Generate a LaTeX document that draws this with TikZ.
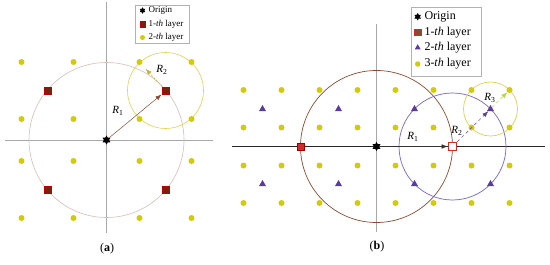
\documentclass[tikz,border=0pt]{standalone}
\usepackage{fontspec}
\setmainfont{Liberation Serif}
\usetikzlibrary{arrows.meta, positioning, shapes.geometric}
\definecolor{cdot}{HTML}{D4CC00}
\definecolor{csqa}{HTML}{7A2010}
\definecolor{csqb}{HTML}{D42A2A}
\definecolor{ctri}{HTML}{5A3C9C}
\definecolor{cringa}{HTML}{D8BCB4}
\definecolor{cbrown}{HTML}{8A4A30}
\definecolor{cviolet}{HTML}{7A62C4}
\definecolor{cgold}{HTML}{E2D04A}
\definecolor{caxis}{HTML}{A8A8A8}
\newcommand{\thlayer}[1]{#1-\textit{th} layer}
\newcommand{\rad}[1]{\textit{R}\textsubscript{#1}}

\begin{document}
\begin{tikzpicture}[x=1pt, y=-1pt,
    dot/.style={circle, fill=cdot, inner sep=0pt, minimum size=6pt},
    sqa/.style={rectangle, fill=csqa, draw=red!75!black, line width=0.5pt, inner sep=0pt, minimum size=7pt},
    sqb/.style={rectangle, fill=csqb, draw=red!60!black, line width=0.5pt, inner sep=0pt, minimum size=7.5pt},
    tri/.style={regular polygon, regular polygon sides=3, fill=ctri, inner sep=0pt, minimum size=8pt},
    org/.style={star, star points=6, star point ratio=1.7, fill=black, inner sep=0pt, minimum size=9pt},
    arr/.style={-{Latex[length=6pt, width=4.5pt]}, line width=0.5pt},
    lab/.style={font=\fontsize{11}{11}\selectfont},
    lg/.style={draw=gray!60, fill=white, inner sep=0pt},
    lgt/.style={anchor=west, inner sep=0pt}]
  \useasboundingbox (0,0) rectangle (550,265);

  % (a)
  \draw[caxis, line width=0.6pt] (106.5,2) -- (106.5,233);
  \draw[caxis, line width=0.6pt] (5,140) -- (213,140);
  \draw[cringa, line width=0.6pt] (106.5,140) circle[radius=77.5pt];
  \draw[cgold, line width=0.6pt] (165.5,90.5) circle[radius=38pt];
  \foreach \x [count=\i] in {21.5,73.5,139.5,191.5}
    \foreach \y [count=\j] in {62,119,161,218}
      \node[dot] (da\i\j) at (\x,\y) {};
  \foreach \x/\n in {47.5/l,165.5/r}
    \foreach \y/\m in {90.5/t,189.5/b}
      \node[sqa] (sa\n\m) at (\x,\y) {};
  \node[org] (Oa) at (106.5,140) {};
  \draw[arr, cbrown] (Oa) -- ([shift={(-4pt,-4pt)}]sart.center);
  \draw[arr, cgold!85!black, dash pattern=on 2pt off 1.5pt, shorten >=6pt] (sart) -- (da31);
  \node[lab] (r1a) at (118,111) {\rad{1}};
  \node[lab] (r2a) at (162,70) {\rad{2}};

  \node[lg, minimum width=54pt, minimum height=38pt] (lga) at (162,24) {};
  \node[org, minimum size=6.5pt] (lga1) at (142.5,10.5) {};
  \node[sqa, minimum size=5.5pt] (lga2) at (142.5,24) {};
  \node[dot, minimum size=5pt] (lga3) at (142.5,37.5) {};
  \begin{scope}[font=\fontsize{9}{9}\selectfont]
    \node[lgt] at (148.5,10.5) {Origin};
    \node[lgt] at (148.5,24) {\thlayer{1}};
    \node[lgt] at (148.5,37.5) {\thlayer{2}};
  \end{scope}
  \node[font=\fontsize{12}{12}\selectfont] (capa) at (107,249) {(\textbf{a})};

  % (b)
  \draw[caxis, line width=0.6pt] (376.5,24) -- (376.5,232);
  \draw[black!85, line width=0.7pt] (232,146.5) -- (545,146.5);
  \draw[cbrown, line width=0.7pt] (376.5,146.5) circle[radius=76pt];
  \draw[cviolet, line width=0.7pt] (452.5,146.5) circle[radius=53.5pt];
  \draw[cgold, line width=0.7pt] (490.5,109) circle[radius=27pt];
  \foreach \x [count=\i] in {243.5,281.5,319.5,357.5,395.5,433.5,471.5,509.5}
    \foreach \y [count=\j] in {90,127.5,165.5,203}
      \node[dot] (db\i\j) at (\x,\y) {};
  \foreach \x [count=\i] in {262.5,338.5,414.5,490.5}
    \foreach \y [count=\j] in {109,184}
      \node[tri] (tb\i\j) at (\x,\y) {};
  \node[sqb] (sbl) at (300.5,146.5) {};
  \node[sqb, fill=white, draw=csqb, line width=1.6pt, minimum size=8pt] (sbr) at (452.5,146.5) {};
  \node[org] (Ob) at (376.5,146.5) {};
  \draw[arr, black!80] (Ob) -- (sbr);
  \draw[arr, ctri, dashed] (sbr) -- (tb41);
  \draw[arr, cgold!80!green, dashed] (tb41) -- (db81);
  \node[lab] (r1b) at (413,137) {\rad{1}};
  \node[lab] (r2b) at (457,131) {\rad{2}};
  \node[lab] (r3b) at (490,98) {\rad{3}};

  \node[lg, minimum width=70pt, minimum height=68.5pt] (lgb) at (446.5,41.75) {};
  \node[org, minimum size=7.5pt] (lgb1) at (417.7,16.7) {};
  \node[sqa, fill=cbrown, draw=csqb, minimum size=6.5pt] (lgb2) at (417.7,32.3) {};
  \node[tri, minimum size=7pt] (lgb3) at (417.7,47.7) {};
  \node[dot, minimum size=5.5pt] (lgb4) at (417.7,64) {};
  \begin{scope}[font=\fontsize{12}{12}\selectfont]
    \node[lgt] at (424.3,16.7) {Origin};
    \node[lgt] at (424.3,32.3) {\thlayer{1}};
    \node[lgt] at (424.3,47.7) {\thlayer{2}};
    \node[lgt] at (424.3,64) {\thlayer{3}};
  \end{scope}
  \node[font=\fontsize{12}{12}\selectfont] (capb) at (377,247) {(\textbf{b})};
\end{tikzpicture}
\end{document}
